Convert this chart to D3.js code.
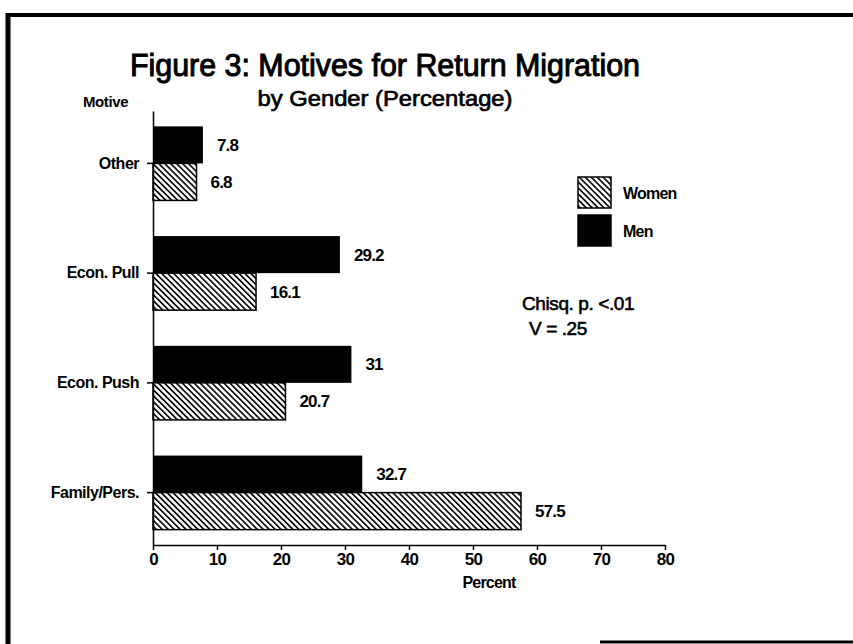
<!DOCTYPE html>
<html>
<head>
<meta charset="utf-8">
<script src="https://cdn.jsdelivr.net/npm/d3@7"></script>
<style>
  body { margin: 0; background: #fff; }
  text { font-family: "Liberation Sans", Arial, sans-serif; fill: #000; }
</style>
</head>
<body>
<div class="chart"></div>
<script>
var svgWidth = 853;
var svgHeight = 644;

// data
var categories = ["Other", "Econ. Pull", "Econ. Push", "Family/Pers."];
var men = [7.8, 29.2, 31, 32.7];
var women = [6.8, 16.1, 20.7, 57.5];
var xTicks = [0, 10, 20, 30, 40, 50, 60, 70, 80];

var svg = d3.select(".chart")
  .append("svg")
  .attr("width", svgWidth)
  .attr("height", svgHeight);

// hatch pattern for women
var defs = svg.append("defs");
defs.append("pattern")
  .attr("id", "hatch")
  .attr("patternUnits", "userSpaceOnUse")
  .attr("width", 4.2)
  .attr("height", 4.2)
  .attr("patternTransform", "rotate(-45)")
  .append("rect")
  .attr("x", 0)
  .attr("y", 0)
  .attr("width", 1.6)
  .attr("height", 4.2)
  .attr("fill", "#000");

// frame round the figure
svg.append("line").attr("x1", 8).attr("x2", 8).attr("y1", 13).attr("y2", 644)
  .attr("stroke", "#000").attr("stroke-width", 5);
svg.append("line").attr("x1", 6).attr("x2", 853).attr("y1", 15).attr("y2", 15)
  .attr("stroke", "#000").attr("stroke-width", 4);
svg.append("line").attr("x1", 600).attr("x2", 853).attr("y1", 642).attr("y2", 642)
  .attr("stroke", "#000").attr("stroke-width", 3);

// scales
var x = d3.scaleLinear().domain([0, 80]).range([153, 665]);
var y = d3.scaleBand().domain(categories).range([111, 545])
  .paddingInner(0.325).paddingOuter(0.14);
var sub = d3.scaleBand().domain(["Men", "Women"]).range([0, y.bandwidth()]);

// axes
var bottomAxis = d3.axisBottom(x).tickValues(xTicks).tickSize(5).tickSizeOuter(0);
var leftAxis = d3.axisLeft(y).tickSize(6).tickSizeOuter(0).tickPadding(8);

var gx = svg.append("g")
  .attr("transform", "translate(0,545)")
  .call(bottomAxis);
gx.selectAll("path, line").attr("stroke", "#000").attr("stroke-width", 1.5);
gx.selectAll("text")
  .attr("font-size", 17).attr("font-weight", "bold").attr("letter-spacing", -0.8);

var gy = svg.append("g")
  .attr("transform", "translate(153,0)")
  .call(leftAxis);
gy.selectAll("path, line").attr("stroke", "#000").attr("stroke-width", 1.5);
gy.selectAll("text")
  .attr("font-size", 16).attr("font-weight", "bold").attr("letter-spacing", -0.5);

// bars
svg.selectAll("rect.men")
  .data(categories)
  .enter()
  .append("rect")
  .classed("men", true)
  .attr("x", x(0))
  .attr("y", d => y(d) + sub("Men"))
  .attr("width", (d, i) => x(men[i]) - x(0))
  .attr("height", sub.bandwidth())
  .attr("fill", "#000");

svg.selectAll("rect.women")
  .data(categories)
  .enter()
  .append("rect")
  .classed("women", true)
  .attr("x", x(0))
  .attr("y", d => y(d) + sub("Women"))
  .attr("width", (d, i) => x(women[i]) - x(0))
  .attr("height", sub.bandwidth())
  .attr("fill", "url(#hatch)")
  .attr("stroke", "#000")
  .attr("stroke-width", 1.5);

// value labels
svg.selectAll("text.v-men")
  .data(categories)
  .enter()
  .append("text")
  .classed("v-men", true)
  .attr("x", (d, i) => x(men[i]) + 14)
  .attr("y", d => y(d) + sub("Men") + sub.bandwidth() / 2)
  .attr("dy", "0.35em")
  .attr("font-size", 17).attr("font-weight", "bold").attr("letter-spacing", -0.8)
  .text((d, i) => men[i]);

svg.selectAll("text.v-women")
  .data(categories)
  .enter()
  .append("text")
  .classed("v-women", true)
  .attr("x", (d, i) => x(women[i]) + 14)
  .attr("y", d => y(d) + sub("Women") + sub.bandwidth() / 2)
  .attr("dy", "0.35em")
  .attr("font-size", 17).attr("font-weight", "bold").attr("letter-spacing", -0.8)
  .text((d, i) => women[i]);

// titles
svg.append("text")
  .attr("x", 385).attr("y", 76)
  .attr("text-anchor", "middle")
  .attr("font-size", 31)
  .attr("textLength", 510).attr("lengthAdjust", "spacingAndGlyphs")
  .attr("stroke", "#000").attr("stroke-width", 1)
  .text("Figure 3: Motives for Return Migration");

svg.append("text")
  .attr("x", 385).attr("y", 106)
  .attr("text-anchor", "middle")
  .attr("font-size", 22)
  .attr("textLength", 255).attr("lengthAdjust", "spacingAndGlyphs")
  .attr("stroke", "#000").attr("stroke-width", 0.7)
  .text("by Gender (Percentage)");

svg.append("text")
  .attr("x", 83).attr("y", 107)
  .attr("font-size", 15).attr("font-weight", "bold").attr("letter-spacing", -0.4)
  .text("Motive");

svg.append("text")
  .attr("x", 489).attr("y", 588)
  .attr("text-anchor", "middle")
  .attr("font-size", 16).attr("font-weight", "bold").attr("letter-spacing", -0.8)
  .text("Percent");

// legend
var legendItems = ["Women", "Men"];
var legendFill = ["url(#hatch)", "#000"];
var legend = svg.selectAll("g.legend")
  .data(legendItems)
  .enter()
  .append("g")
  .classed("legend", true)
  .attr("transform", (d, i) => `translate(578, ${177 + i * 38})`);

legend.append("rect")
  .attr("width", 33).attr("height", 31)
  .attr("fill", (d, i) => legendFill[i])
  .attr("stroke", "#000").attr("stroke-width", 1.5);

legend.append("text")
  .attr("x", 45).attr("y", 16)
  .attr("dy", "0.35em")
  .attr("font-size", 16).attr("font-weight", "bold").attr("letter-spacing", -0.8)
  .text(d => d);

// statistics note
svg.append("text")
  .attr("x", 522).attr("y", 303).attr("dy", "0.35em")
  .attr("font-size", 19).attr("letter-spacing", -0.4)
  .attr("stroke", "#000").attr("stroke-width", 0.6)
  .text("Chisq. p. <.01");

svg.append("text")
  .attr("x", 529).attr("y", 328).attr("dy", "0.35em")
  .attr("font-size", 19).attr("letter-spacing", -0.4)
  .attr("stroke", "#000").attr("stroke-width", 0.6)
  .text("V = .25");
</script>
</body>
</html>
